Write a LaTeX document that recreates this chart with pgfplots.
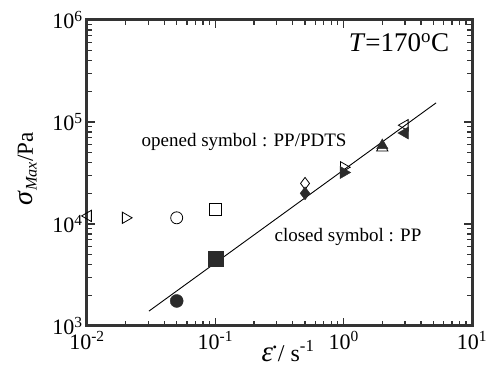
\documentclass[border=0pt]{standalone}
\usepackage{fontspec}
\setmainfont{Liberation Serif}
\usepackage{pgfplots}
\pgfplotsset{compat=1.18}
\usetikzlibrary{calc}
\definecolor{axc}{HTML}{333333}
\definecolor{fillc}{HTML}{2B2B2B}
\begin{document}
\begin{tikzpicture}
\begin{axis}[
  name=ax,
  xmode=log, ymode=log,
  xmin=0.01, xmax=10, ymin=1e3, ymax=1e6,
  width=385pt, height=306pt, scale only axis,
  axis line style={line width=3pt, color=axc},
  tick style={line width=1.3pt, color=axc},
  major tick length=8pt, minor tick length=5pt,
  tick align=inside,
  clip=false,
  xtick={0.01,0.1,1,10},
  xticklabels={10\textsuperscript{-2},10\textsuperscript{-1},10\textsuperscript{0},10\textsuperscript{1}},
  ytick={1e3,1e4,1e5,1e6},
  yticklabels={10\textsuperscript{3},10\textsuperscript{4},10\textsuperscript{5},10\textsuperscript{6}},
  ticklabel style={font=\fontsize{22}{24}\selectfont},
  xticklabel style={yshift=-2pt},
  yticklabel style={xshift=-1pt},
]
% line
\addplot[black, line width=0.9pt, no marks] coordinates {(0.0304,1400) (5.25,1.54e5)};
% open symbols PP/PDTS
\addplot[only marks, mark=triangle, mark size=6.5pt, mark options={rotate=90, draw=black, fill=white, line width=0.8pt}] coordinates {(0.0102,1.2e4) (3,9.3e4)};
\addplot[only marks, mark=triangle, mark size=6.5pt, mark options={rotate=-90, draw=black, fill=white, line width=0.8pt}] coordinates {(0.02,1.15e4) (1,3.6e4)};
\addplot[only marks, mark=o, mark size=6pt, mark options={draw=black, fill=white, line width=0.8pt}] coordinates {(0.05,1.15e4)};
\addplot[only marks, mark=square, mark size=6pt, mark options={draw=black, fill=white, line width=0.8pt}] coordinates {(0.1,1.4e4)};
\addplot[only marks, mark=diamond, mark size=6pt, mark options={draw=black, fill=white, line width=0.8pt}] coordinates {(0.5,2.5e4)};
\addplot[only marks, mark=triangle, mark size=6.5pt, mark options={draw=black, fill=white, line width=0.8pt}] coordinates {(2,5.6e4)};
% closed symbols PP
\addplot[only marks, mark=*, mark size=6.5pt, mark options={draw=fillc, fill=fillc}] coordinates {(0.05,1.76e3)};
\addplot[only marks, mark=square*, mark size=7.5pt, mark options={draw=fillc, fill=fillc}] coordinates {(0.1,4.6e3)};
\addplot[only marks, mark=diamond*, mark size=6.5pt, mark options={draw=fillc, fill=fillc}] coordinates {(0.5,2.0e4)};
\addplot[only marks, mark=triangle*, mark size=7pt, mark options={rotate=-90, draw=fillc, fill=fillc}] coordinates {(1,3.2e4)};
\addplot[only marks, mark=triangle*, mark size=6.5pt, mark options={draw=fillc, fill=fillc}] coordinates {(2,5.9e4)};
\addplot[only marks, mark=triangle*, mark size=7pt, mark options={rotate=90, draw=fillc, fill=fillc}] coordinates {(3,7.8e4)};
% annotations
\node[font=\fontsize{19}{22}\selectfont] at (axis cs:0.1676,6.37e4) {opened symbol : PP/PDTS};
\node[font=\fontsize{19}{22}\selectfont] at (axis cs:1.08,7.46e3) {closed symbol : PP};
\node[font=\fontsize{27}{30}\selectfont] at (axis cs:2.7,5.95e5) {\textit{T}=170\textsuperscript{o}C};
\end{axis}
% axis labels
\node[font=\fontsize{23}{26}\selectfont, rotate=90, anchor=base] at ($(ax.south west)+(-54pt,157pt)$)
  {{\fontsize{28}{30}\selectfont\textit{σ}}\textsubscript{\textit{Max}}/Pa};
\node[font=\fontsize{24}{26}\selectfont, anchor=base] at ($(ax.south west)+(201pt,-35pt)$)
  {{\fontsize{29}{30}\selectfont\textit{ε}}\hspace{-1pt}\raisebox{13pt}{.}/ s\textsuperscript{-1}};
\pgfresetboundingbox
\path ($(ax.south west)+(-87pt,-46pt)$) rectangle ($(ax.north east)+(17pt,20pt)$);
\end{tikzpicture}
\end{document}
